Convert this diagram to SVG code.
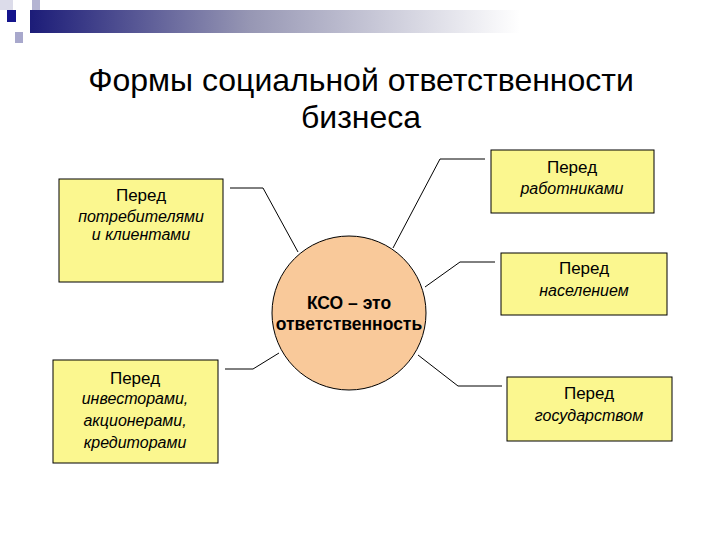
<svg xmlns="http://www.w3.org/2000/svg" width="720" height="540" viewBox="0 0 720 540">
<defs>
<linearGradient id="bar" x1="0" y1="0" x2="1" y2="0">
<stop offset="0" stop-color="#1c1c78"/>
<stop offset="0.45" stop-color="#9797b4"/>
<stop offset="1" stop-color="#ffffff"/>
</linearGradient>
<style>
.box{fill:#fbf78f;stroke:#000;stroke-width:1}
.t{font-family:"Liberation Sans",Arial,sans-serif;font-size:17px;fill:#000;text-anchor:middle}
.i{font-style:italic;font-size:16px}
.b{font-weight:bold;font-size:17.5px}
.ttl{font-family:"Liberation Sans",Arial,sans-serif;font-size:32px;fill:#000;text-anchor:middle}
.c{fill:none;stroke:#000;stroke-width:1}
</style>
</defs>
<rect width="720" height="540" fill="#fff"/>
<g id="decor">
<rect x="0" y="0" width="13" height="10" fill="#dcdcea"/>
<rect x="32" y="0" width="8" height="22" fill="#b4b4d2"/>
<rect x="30" y="10" width="490" height="23" fill="url(#bar)"/>
<rect x="7" y="10" width="9" height="12" fill="#14148c"/>
<rect x="15" y="32" width="8" height="11" fill="#a8a8cc"/>
</g>
<g id="title">
<text class="ttl" x="361" y="91">Формы социальной ответственности</text>
<text class="ttl" x="361" y="128">бизнеса</text>
</g>
<g id="connectors">
<polyline class="c" points="230,188 263,188 298,252"/>
<polyline class="c" points="393,248 440,159 485,159"/>
<polyline class="c" points="425,287 460,262 495,262"/>
<polyline class="c" points="418,355 458,386 502,386"/>
<polyline class="c" points="225,369 253,369 279,353"/>
</g>
<g id="center">
<circle cx="349" cy="313" r="77" fill="#f9c99a" stroke="#000" stroke-width="1"/>
<text class="t b" x="349" y="309">КСО – это</text>
<text class="t b" x="349" y="330">ответственность</text>
</g>
<g id="consumers">
<rect class="box" x="59" y="179" width="164" height="103"/>
<text class="t" x="141" y="201">Перед</text>
<text class="t i" x="141" y="222">потребителями</text>
<text class="t i" x="141" y="240">и клиентами</text>
</g>
<g id="workers">
<rect class="box" x="491" y="150" width="163" height="63"/>
<text class="t" x="572" y="173">Перед</text>
<text class="t i" x="572" y="194">работниками</text>
</g>
<g id="population">
<rect class="box" x="501" y="253" width="166" height="62"/>
<text class="t" x="584" y="274">Перед</text>
<text class="t i" x="584" y="296">населением</text>
</g>
<g id="state">
<rect class="box" x="507" y="377" width="165" height="64"/>
<text class="t" x="589" y="399">Перед</text>
<text class="t i" x="589" y="421">государством</text>
</g>
<g id="investors">
<rect class="box" x="53" y="360" width="165" height="103"/>
<text class="t" x="135" y="384">Перед</text>
<text class="t i" x="135" y="404">инвесторами,</text>
<text class="t i" x="135" y="426">акционерами,</text>
<text class="t i" x="135" y="448">кредиторами</text>
</g>
</svg>
